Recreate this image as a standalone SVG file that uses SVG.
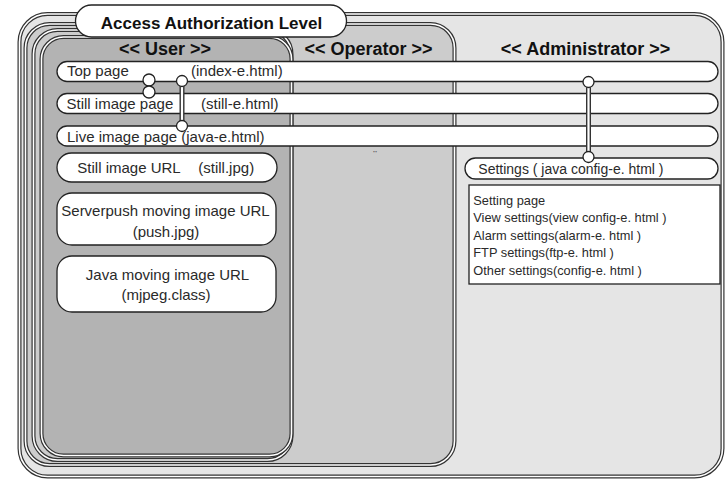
<svg xmlns="http://www.w3.org/2000/svg" width="727" height="480" viewBox="0 0 727 480">
<style>
.dk{stroke:#333;stroke-width:4}
.wl{fill:none;stroke:#fff;stroke-width:1.6}
.bar{fill:#fff;stroke:#222;stroke-width:1.3}
.t{font-family:"Liberation Sans",Arial,sans-serif;font-size:15px;fill:#2a2a2a}
.s{font-family:"Liberation Sans",Arial,sans-serif;font-size:12.8px;fill:#2a2a2a}
.h{font-family:"Liberation Sans",Arial,sans-serif;font-size:18px;font-weight:bold;fill:#111;text-anchor:middle}
.c{fill:#fff;stroke:#222;stroke-width:1.3}
.vk{stroke:#333;stroke-width:5}
.vw{stroke:#fff;stroke-width:2.2}
</style>
<g id="admin">
<rect x="19.5" y="14" width="703" height="462.5" rx="28" fill="#e5e5e5" class="dk"/>
<rect x="19.5" y="14" width="703" height="462.5" rx="28" class="wl"/>
<text class="h" x="585.5" y="55">&lt;&lt; Administrator &gt;&gt;</text>
</g>
<g id="operator">
<rect x="25.5" y="24" width="429" height="441" rx="24" fill="#cccccc" class="dk"/>
<rect x="25.5" y="24" width="429" height="441" rx="24" class="wl"/>
<text class="h" x="368.5" y="55">&lt;&lt; Operator &gt;&gt;</text>
<text x="375" y="159" font-family="DejaVu Sans,sans-serif" font-size="11" fill="#666" text-anchor="middle">¨</text>
</g>
<g id="user-frame">
<rect x="33.5" y="30" width="258" height="430" rx="24" fill="#cccccc" class="dk"/>
<rect x="33.5" y="30" width="258" height="430" rx="24" class="wl"/>
</g>
<g id="user">
<rect x="41.5" y="37" width="250" height="418.5" rx="22" fill="#b3b3b3" class="dk"/>
<rect x="41.5" y="37" width="250" height="418.5" rx="22" class="wl"/>
<text class="h" x="165" y="55">&lt;&lt; User &gt;&gt;</text>
</g>
<g id="title">
<rect x="75.5" y="5" width="271" height="32" rx="16" fill="#fff" stroke="#222" stroke-width="1.3"/>
<text class="h" x="211.5" y="28.5" style="font-size:17px">Access Authorization Level</text>
</g>
<g id="top-page">
<rect class="bar" x="57" y="61.5" width="661" height="20" rx="10"/>
<text class="t" x="67" y="75.5">Top page</text>
<text class="t" x="191" y="75.5">(index-e.html)</text>
</g>
<g id="still-page">
<rect class="bar" x="57" y="93.5" width="661" height="20" rx="10"/>
<text class="t" x="66.5" y="109">Still image page</text>
<text class="t" x="201" y="109">(still-e.html)</text>
</g>
<g id="live-page">
<rect class="bar" x="57" y="126" width="661" height="20" rx="10"/>
<text class="t" x="67" y="141.5">Live image page (java-e.html)</text>
</g>
<g id="still-url">
<rect class="bar" x="57" y="153" width="220" height="29" rx="14.5"/>
<text class="t" x="77.3" y="172.5">Still image URL</text>
<text class="t" x="198.3" y="172.5">(still.jpg)</text>
</g>
<g id="push-url">
<rect class="bar" x="57" y="193" width="219" height="52" rx="15"/>
<text class="t" x="165.5" y="216" text-anchor="middle">Serverpush moving image URL</text>
<text class="t" x="166" y="236.5" text-anchor="middle">(push.jpg)</text>
</g>
<g id="java-url">
<rect class="bar" x="57" y="256" width="219" height="56" rx="15"/>
<text class="t" x="167.5" y="280" text-anchor="middle">Java moving image URL</text>
<text class="t" x="166" y="300" text-anchor="middle">(mjpeg.class)</text>
</g>
<g id="settings">
<rect class="bar" x="465" y="158" width="253" height="21" rx="10.5"/>
<text class="t" x="478.3" y="174" style="font-size:14px">Settings ( java config-e. html )</text>
</g>
<g id="setting-page">
<rect x="469" y="185" width="251" height="99" fill="#fff" stroke="#222" stroke-width="1.3"/>
<text class="s" x="473.3" y="204.5">Setting page</text>
<text class="s" x="473.3" y="222">View settings(view config-e. html )</text>
<text class="s" x="473.3" y="239.5">Alarm settings(alarm-e. html )</text>
<text class="s" x="473.3" y="257">FTP settings(ftp-e. html )</text>
<text class="s" x="473.3" y="274.5">Other settings(config-e. html )</text>
</g>
<g id="connectors">
<line class="vk" x1="182" y1="82" x2="182" y2="125"/>
<line class="vw" x1="182" y1="82" x2="182" y2="125"/>
<line class="vk" x1="588.5" y1="83" x2="588.5" y2="156"/>
<line class="vw" x1="588.5" y1="83" x2="588.5" y2="156"/>
<circle class="c" cx="149" cy="80" r="6"/>
<circle class="c" cx="149" cy="92" r="6"/>
<circle class="c" cx="182" cy="81" r="5.5"/>
<circle class="c" cx="182" cy="126" r="5.5"/>
<circle class="c" cx="588.5" cy="82" r="5.5"/>
<circle class="c" cx="588.5" cy="157" r="5.5"/>
</g>
</svg>
